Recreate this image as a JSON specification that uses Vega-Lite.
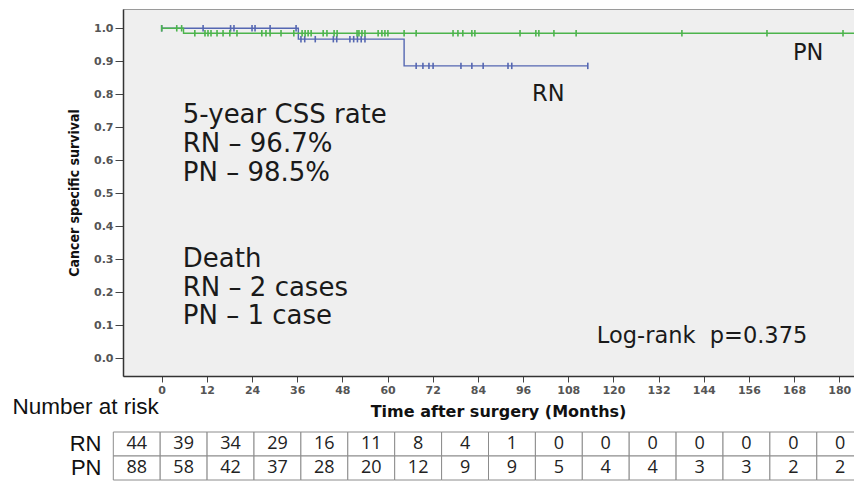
{
  "$schema": "https://vega.github.io/schema/vega-lite/v6.json",
  "width": 731,
  "height": 367,
  "autosize": {"type": "none"},
  "padding": {"left": 123, "top": 9, "right": 0, "bottom": 107},
  "background": "white",
  "config": {
    "view": {"fill": "#efefef", "stroke": "#9a9a9a", "strokeWidth": 1},
    "axis": {"grid": false}
  },
  "resolve": {"scale": {"x": "independent", "y": "independent"}},
  "layer": [
    {
      "encoding": {
        "x": {
          "field": "month", "type": "quantitative",
          "scale": {"domain": [-10.28, 183.92], "nice": false, "zero": false},
          "axis": {
            "values": [0, 12, 24, 36, 48, 60, 72, 84, 96, 108, 120, 132, 144, 156, 168, 180],
            "labelFont": "DejaVu Sans", "labelFontWeight": "bold", "labelFontSize": 11, "labelColor": "#555",
            "tickSize": 6, "tickColor": "#444", "domainColor": "#333", "domainWidth": 1.5, "labelPadding": 2,
            "title": "Time after surgery (Months)", "titleFont": "DejaVu Sans", "titleFontSize": 16,
            "titleFontWeight": "bold", "titleColor": "#111", "titlePadding": 8, "titleX": 375
          }
        },
        "y": {
          "field": "survival", "type": "quantitative",
          "scale": {"domain": [-0.0545, 1.0585], "nice": false, "zero": false},
          "axis": {
            "values": [0, 0.1, 0.2, 0.3, 0.4, 0.5, 0.6, 0.7, 0.8, 0.9, 1.0], "format": ".1f",
            "labelFont": "DejaVu Sans", "labelFontWeight": "bold", "labelFontSize": 11, "labelColor": "#555",
            "tickSize": 8, "tickColor": "#444", "domainColor": "#333", "domainWidth": 1.5, "labelPadding": 2,
            "title": "Cancer specific survival", "titleFont": "DejaVu Sans Condensed, Roboto Condensed, Roboto, sans-serif", "titleFontSize": 14,
            "titleFontWeight": "bold", "titleColor": "#111", "titlePadding": 12
          }
        }
      },
      "layer": [
        {
          "data": {"values": [
            {"group": "RN", "month": 0, "survival": 1},
            {"group": "RN", "month": 36.3, "survival": 0.967},
            {"group": "RN", "month": 64.4, "survival": 0.886},
            {"group": "RN", "month": 113.2, "survival": 0.886},
            {"group": "PN", "month": 0, "survival": 1},
            {"group": "PN", "month": 5.8, "survival": 0.985},
            {"group": "PN", "month": 186, "survival": 0.985}
          ]},
          "mark": {"type": "line", "interpolate": "step-after", "strokeWidth": 1.4},
          "encoding": {
            "color": {"field": "group", "type": "nominal", "scale": {"domain": ["RN", "PN"], "range": ["#5567b2", "#4cb44c"]}, "legend": null}
          }
        },
        {
          "data": {"values": [
            {"group": "RN", "month": 0, "survival": 1},
            {"group": "RN", "month": 11, "survival": 1},
            {"group": "RN", "month": 18.3, "survival": 1},
            {"group": "RN", "month": 19.2, "survival": 1},
            {"group": "RN", "month": 24, "survival": 1},
            {"group": "RN", "month": 24.8, "survival": 1},
            {"group": "RN", "month": 28.8, "survival": 1},
            {"group": "RN", "month": 35.7, "survival": 1},
            {"group": "RN", "month": 37, "survival": 0.967},
            {"group": "RN", "month": 38, "survival": 0.967},
            {"group": "RN", "month": 40.8, "survival": 0.967},
            {"group": "RN", "month": 45.6, "survival": 0.967},
            {"group": "RN", "month": 46.5, "survival": 0.967},
            {"group": "RN", "month": 50, "survival": 0.967},
            {"group": "RN", "month": 51, "survival": 0.967},
            {"group": "RN", "month": 52, "survival": 0.967},
            {"group": "RN", "month": 53, "survival": 0.967},
            {"group": "RN", "month": 54, "survival": 0.967},
            {"group": "RN", "month": 67.6, "survival": 0.886},
            {"group": "RN", "month": 69.4, "survival": 0.886},
            {"group": "RN", "month": 71, "survival": 0.886},
            {"group": "RN", "month": 72.1, "survival": 0.886},
            {"group": "RN", "month": 79.5, "survival": 0.886},
            {"group": "RN", "month": 82.4, "survival": 0.886},
            {"group": "RN", "month": 85.4, "survival": 0.886},
            {"group": "RN", "month": 92, "survival": 0.886},
            {"group": "RN", "month": 93, "survival": 0.886},
            {"group": "RN", "month": 113.2, "survival": 0.886},
            {"group": "PN", "month": 0, "survival": 1},
            {"group": "PN", "month": 4.0, "survival": 1},
            {"group": "PN", "month": 5.3, "survival": 1},
            {"group": "PN", "month": 8.8, "survival": 0.985},
            {"group": "PN", "month": 11.5, "survival": 0.985},
            {"group": "PN", "month": 12.3, "survival": 0.985},
            {"group": "PN", "month": 13.1, "survival": 0.985},
            {"group": "PN", "month": 14.7, "survival": 0.985},
            {"group": "PN", "month": 16.3, "survival": 0.985},
            {"group": "PN", "month": 18.1, "survival": 0.985},
            {"group": "PN", "month": 20.0, "survival": 0.985},
            {"group": "PN", "month": 26.6, "survival": 0.985},
            {"group": "PN", "month": 27.7, "survival": 0.985},
            {"group": "PN", "month": 28.8, "survival": 0.985},
            {"group": "PN", "month": 31.7, "survival": 0.985},
            {"group": "PN", "month": 35.1, "survival": 0.985},
            {"group": "PN", "month": 37.3, "survival": 0.985},
            {"group": "PN", "month": 38.1, "survival": 0.985},
            {"group": "PN", "month": 38.9, "survival": 0.985},
            {"group": "PN", "month": 39.7, "survival": 0.985},
            {"group": "PN", "month": 42.9, "survival": 0.985},
            {"group": "PN", "month": 43.9, "survival": 0.985},
            {"group": "PN", "month": 45.8, "survival": 0.985},
            {"group": "PN", "month": 46.6, "survival": 0.985},
            {"group": "PN", "month": 51.9, "survival": 0.985},
            {"group": "PN", "month": 52.4, "survival": 0.985},
            {"group": "PN", "month": 53.2, "survival": 0.985},
            {"group": "PN", "month": 54.0, "survival": 0.985},
            {"group": "PN", "month": 57.5, "survival": 0.985},
            {"group": "PN", "month": 58.5, "survival": 0.985},
            {"group": "PN", "month": 59.3, "survival": 0.985},
            {"group": "PN", "month": 60.1, "survival": 0.985},
            {"group": "PN", "month": 64.4, "survival": 0.985},
            {"group": "PN", "month": 67.6, "survival": 0.985},
            {"group": "PN", "month": 77.4, "survival": 0.985},
            {"group": "PN", "month": 78.7, "survival": 0.985},
            {"group": "PN", "month": 80.0, "survival": 0.985},
            {"group": "PN", "month": 82.4, "survival": 0.985},
            {"group": "PN", "month": 83.2, "survival": 0.985},
            {"group": "PN", "month": 95.2, "survival": 0.985},
            {"group": "PN", "month": 99.4, "survival": 0.985},
            {"group": "PN", "month": 100.2, "survival": 0.985},
            {"group": "PN", "month": 104.2, "survival": 0.985},
            {"group": "PN", "month": 110.1, "survival": 0.985},
            {"group": "PN", "month": 138.2, "survival": 0.985},
            {"group": "PN", "month": 160.8, "survival": 0.985},
            {"group": "PN", "month": 181.0, "survival": 0.985}
          ]},
          "mark": {"type": "point", "shape": "M0,-1V1", "size": 42, "strokeWidth": 1.6, "filled": false, "opacity": 1},
          "encoding": {
            "color": {"field": "group", "type": "nominal", "legend": null}
          }
        },
        {
          "data": {"values": [
            {"month": 5.6, "survival": 0.712, "label": ["5-year CSS rate", "RN – 96.7%", "PN – 98.5%"]},
            {"month": 5.6, "survival": 0.276, "label": ["Death", "RN – 2 cases", "PN – 1 case"]}
          ]},
          "mark": {"type": "text", "align": "left", "baseline": "alphabetic", "font": "DejaVu Sans", "fontSize": 26, "lineHeight": 28.7, "color": "#1a1a1a"},
          "encoding": {"text": {"field": "label", "type": "nominal"}}
        },
        {
          "data": {"values": [
            {"month": 167.7, "survival": 0.903, "label": "PN"},
            {"month": 98.4, "survival": 0.779, "label": "RN"},
            {"month": 115.6, "survival": 0.045, "label": "Log-rank\u00a0\u00a0p=0.375"}
          ]},
          "mark": {"type": "text", "align": "left", "baseline": "alphabetic", "font": "DejaVu Sans", "fontSize": 22.5, "color": "#1a1a1a"},
          "encoding": {"text": {"field": "label", "type": "nominal"}}
        }
      ]
    },
    {
      "data": {"values": [
        {"group": "RN", "time": 0, "n": 44}, {"group": "RN", "time": 12, "n": 39}, {"group": "RN", "time": 24, "n": 34}, {"group": "RN", "time": 36, "n": 29},
        {"group": "RN", "time": 48, "n": 16}, {"group": "RN", "time": 60, "n": 11}, {"group": "RN", "time": 72, "n": 8}, {"group": "RN", "time": 84, "n": 4},
        {"group": "RN", "time": 96, "n": 1}, {"group": "RN", "time": 108, "n": 0}, {"group": "RN", "time": 120, "n": 0}, {"group": "RN", "time": 132, "n": 0},
        {"group": "RN", "time": 144, "n": 0}, {"group": "RN", "time": 156, "n": 0}, {"group": "RN", "time": 168, "n": 0}, {"group": "RN", "time": 180, "n": 0},
        {"group": "PN", "time": 0, "n": 88}, {"group": "PN", "time": 12, "n": 58}, {"group": "PN", "time": 24, "n": 42}, {"group": "PN", "time": 36, "n": 37},
        {"group": "PN", "time": 48, "n": 28}, {"group": "PN", "time": 60, "n": 20}, {"group": "PN", "time": 72, "n": 12}, {"group": "PN", "time": 84, "n": 9},
        {"group": "PN", "time": 96, "n": 9}, {"group": "PN", "time": 108, "n": 5}, {"group": "PN", "time": 120, "n": 4}, {"group": "PN", "time": 132, "n": 4},
        {"group": "PN", "time": 144, "n": 3}, {"group": "PN", "time": 156, "n": 3}, {"group": "PN", "time": 168, "n": 2}, {"group": "PN", "time": 180, "n": 2}
      ]},
      "encoding": {
        "x": {
          "field": "time", "type": "ordinal",
          "scale": {"domain": [0, 12, 24, 36, 48, 60, 72, 84, 96, 108, 120, 132, 144, 156, 168, 180], "range": [-9.7, 740.7], "paddingInner": 0, "paddingOuter": 0},
          "axis": null
        },
        "y": {
          "field": "group", "type": "nominal",
          "scale": {"domain": ["RN", "PN"], "range": [423, 471], "paddingInner": 0, "paddingOuter": 0},
          "axis": {
            "orient": "left", "domain": false, "ticks": false, "labelPadding": 22,
            "labelFont": "Liberation Sans", "labelFontSize": 22, "labelColor": "#111",
            "title": "Number at risk", "titleAngle": 0, "titleX": -111, "titleY": 404,
            "titleAlign": "left", "titleBaseline": "alphabetic", "titleFont": "Liberation Sans",
            "titleFontSize": 22.5, "titleFontWeight": "normal", "titleColor": "#111"
          }
        }
      },
      "layer": [
        {"mark": {"type": "rect", "fill": "white", "stroke": "#8c8c8c", "strokeWidth": 1}},
        {
          "mark": {"type": "text", "font": "Open Sans", "fontSize": 18, "color": "#222"},
          "encoding": {"text": {"field": "n", "type": "quantitative"}}
        }
      ]
    }
  ]
}
